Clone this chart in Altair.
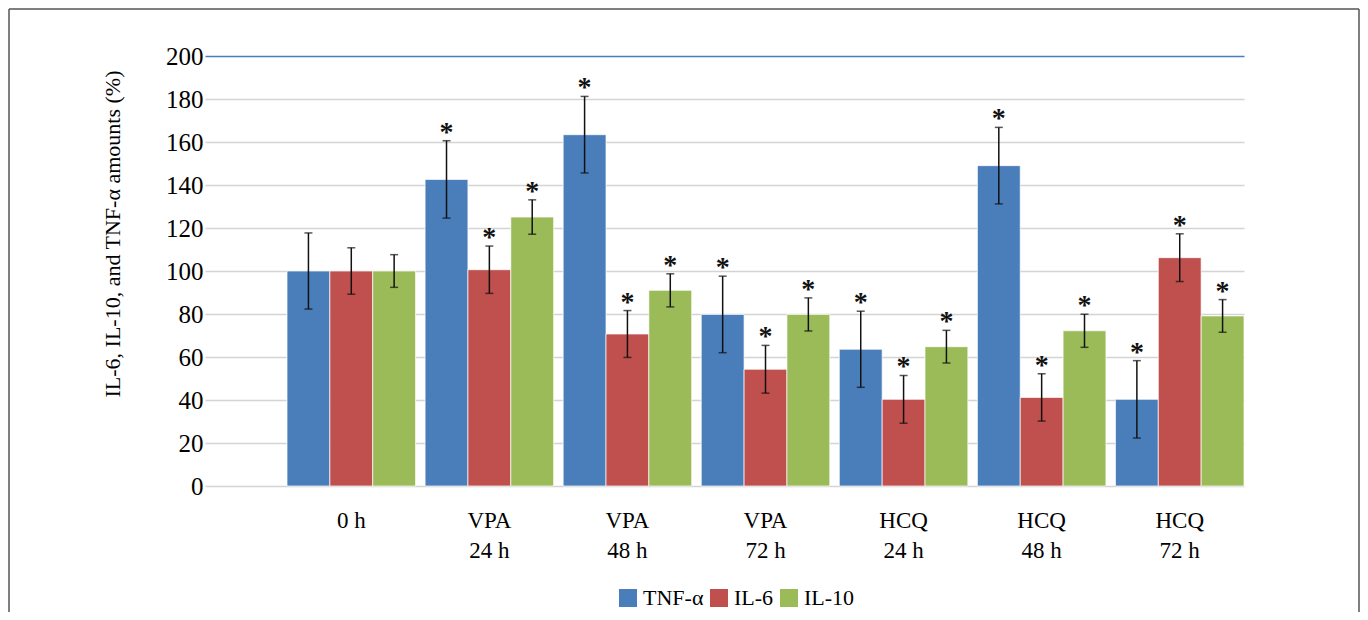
import altair as alt
import pandas as pd

categories = ["0 h", "VPA\n24 h", "VPA\n48 h", "VPA\n72 h", "HCQ\n24 h", "HCQ\n48 h", "HCQ\n72 h"]
series = ["TNF-α", "IL-6", "IL-10"]
colors = ["#4a7ebb", "#c0504d", "#9bbb59"]

tnf = [100, 142.6, 163.4, 79.8, 63.6, 149.0, 40.3]
tnf_sd = [17.7, 18.0, 17.8, 17.8, 17.7, 17.8, 18.0]
il6 = [100, 100.6, 70.7, 54.3, 40.3, 41.2, 106.2]
il6_sd = [10.8, 11.0, 10.9, 11.1, 11.1, 11.0, 11.1]
il10 = [100, 125.1, 91.0, 79.8, 64.8, 72.2, 79.1]
il10_sd = [7.6, 8.0, 7.7, 7.7, 7.6, 7.7, 7.6]
significant = [False, True, True, True, True, True, True]

rows = []
for s, vals, sds in zip(series, [tnf, il6, il10], [tnf_sd, il6_sd, il10_sd]):
    for c, v, sd, sig in zip(categories, vals, sds, significant):
        rows.append({"cat": c, "series": s, "value": v, "lo": v - sd, "hi": v + sd, "star": sig})
df = pd.DataFrame(rows)

FONT = "Liberation Serif"
W, H = 1039, 430

x = alt.X("cat:N", sort=categories, title=None,
          scale=alt.Scale(domain=categories, paddingInner=0.069, paddingOuter=0.297, align=1),
          axis=alt.Axis(labelExpr="split(datum.label, '\\n')", labelAngle=0, labelFont=FONT,
                        labelFontSize=23, labelColor="black", labelLineHeight=30,
                        labelPadding=23, domain=False, ticks=False, grid=False,
                        labelBaseline="top"))
xo = alt.XOffset("series:N", sort=series, scale=alt.Scale(domain=series))
yscale = alt.Scale(domain=[0, 200], nice=False)

base = alt.Chart(df)

bars = base.mark_bar(stroke="white", strokeWidth=1, strokeOpacity=0.7).encode(
    x=x, xOffset=xo,
    y=alt.Y("value:Q", scale=yscale, title=None,
            axis=alt.Axis(values=list(range(0, 201, 20)), labelFont=FONT, labelFontSize=25,
                          labelColor="black", labelPadding=2, domain=False, ticks=False,
                          grid=True,
                          gridColor={"condition": {"test": "datum.value == 200", "value": "#4a7ebb"},
                                     "value": "#d4d4d4"},
                          gridWidth=1.3)),
    color=alt.Color("series:N", sort=series,
                    scale=alt.Scale(domain=series, range=colors),
                    legend=alt.Legend(title=None, orient="none", legendX=412, legendY=531,
                                      direction="horizontal", symbolType="square",
                                      symbolSize=324, symbolStrokeWidth=0, labelFont=FONT,
                                      labelFontSize=22, labelColor="black", labelOffset=4,
                                      columnPadding=4, symbolOpacity=1)),
)

err = base.mark_rule(color="#111111", strokeWidth=1.5).encode(
    x=x, xOffset=xo, y=alt.Y("lo:Q", scale=yscale), y2="hi:Q")

cap_hi = base.mark_tick(color="#111111", thickness=1.5, size=8, orient="horizontal").encode(
    x=x, xOffset=xo, y=alt.Y("hi:Q", scale=yscale))
cap_lo = base.mark_tick(color="#111111", thickness=1.5, size=8, orient="horizontal").encode(
    x=x, xOffset=xo, y=alt.Y("lo:Q", scale=yscale))

stars = base.transform_filter("datum.star").mark_text(
    text="*", font=FONT, fontSize=28, fontWeight="bold", color="#111111",
    baseline="alphabetic", dy=0).encode(
    x=x, xOffset=xo, y=alt.Y("hi:Q", scale=yscale))

one = alt.Data(values=[{}])
ytitle = alt.Chart(one).mark_text(
    text="IL-6, IL-10, and TNF-α amounts (%)", font=FONT, fontSize=22, angle=270,
    align="center", baseline="middle", color="black").encode(
    x=alt.value(-92), y=alt.value(178))

frame_left = alt.Chart(one).mark_rule(color="#555555", strokeWidth=1.5).encode(
    x=alt.value(-196), y=alt.value(-47), y2=alt.value(560))
frame_top = alt.Chart(one).mark_rule(color="#555555", strokeWidth=1.5).encode(
    x=alt.value(-196), x2=alt.value(1154), y=alt.value(-47))
frame_right = alt.Chart(one).mark_rule(color="#555555", strokeWidth=1.5).encode(
    x=alt.value(1154), y=alt.value(-47), y2=alt.value(560))

chart = alt.layer(bars, err, cap_hi, cap_lo, stars, ytitle, frame_left, frame_top, frame_right).properties(
    width=W, height=H,
    autosize=alt.AutoSizeParams(type="none"),
    padding={"left": 197, "top": 48, "right": 116, "bottom": 126},
    background="white",
).configure_view(stroke=None)

chart.save("out.html", embed_options={"renderer": "svg", "actions": False})
